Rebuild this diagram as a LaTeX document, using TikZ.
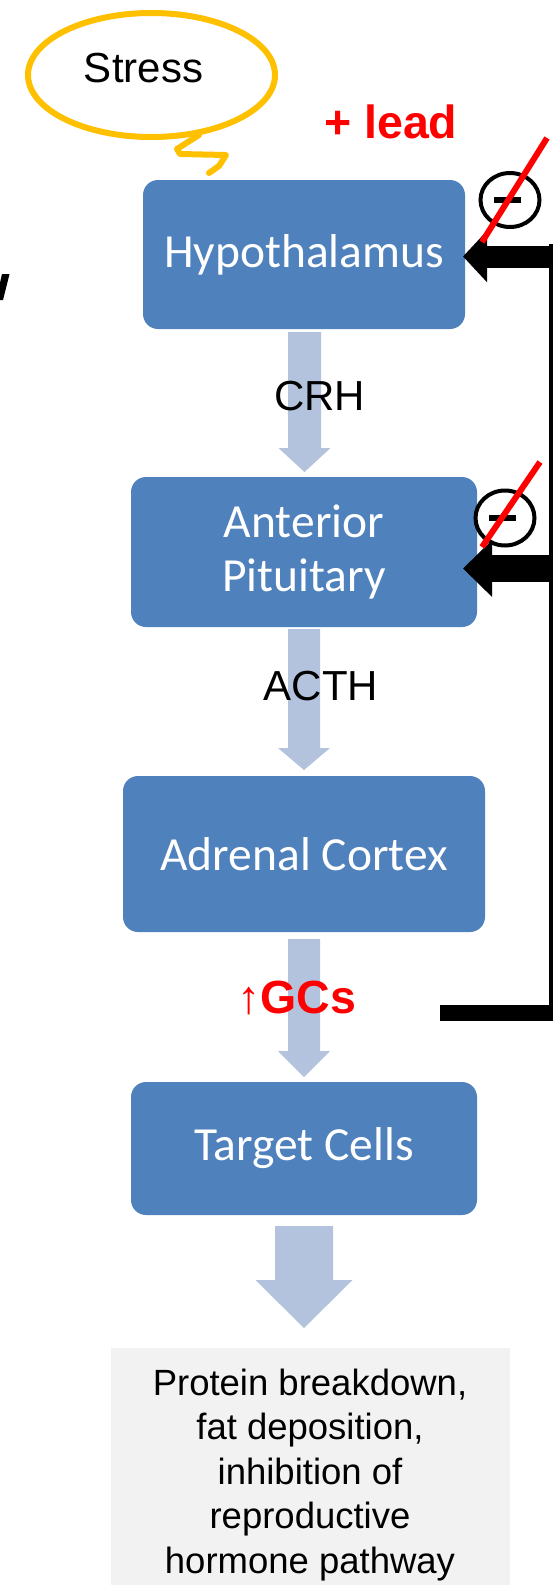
\documentclass[tikz,border=0pt]{standalone}
\usepackage{fontspec}
\setmainfont{Liberation Sans}
\newfontfamily\boxfont{Carlito}
\usetikzlibrary{arrows.meta,calc}
\definecolor{boxblue}{HTML}{4F81BD}
\definecolor{flowblue}{HTML}{B3C2DD}
\definecolor{gold}{HTML}{FFC000}
\definecolor{notered}{HTML}{FF0000}
\definecolor{panel}{HTML}{F2F2F2}
\newcommand\blockarrow[6]{%
  \fill[flowblue] (#1-#5,#2) -- (#1-#5,#3) -- (#1-#6,#3) -- (#1,#4) -- (#1+#6,#3) -- (#1+#5,#3) -- (#1+#5,#2) -- cycle;}
\tikzset{
  organ/.style={fill=boxblue, rounded corners=15pt, text=white, align=center, inner sep=0pt,
    font=\boxfont\fontsize{47.5}{54}\selectfont},
  lbl/.style={inner sep=0pt, font=\fontsize{42}{48}\selectfont},
  redlbl/.style={inner sep=0pt, text=notered, font=\bfseries\fontsize{46.5}{54}\selectfont},
  slash/.style={draw=notered, line width=6pt},
  fbline/.style={draw=black},
}
\begin{document}
\begin{tikzpicture}[x=1pt,y=-1pt]
\useasboundingbox (0,0) rectangle (553,1585);
\clip (0,0) rectangle (553,1585);
\fill[white] (0,0) rectangle (553,1585);

% clipped glyph stroke at the left edge
\fill[black] (2,274) -- (9.5,274) -- (3,300) -- (-4,300) -- cycle;

% stress bubble
\draw[gold, line width=6pt] (151.5,75) ellipse [x radius=123.5, y radius=62];
\draw[gold, line width=6pt, line join=round, line cap=round]
  (199,135) -- (177,149) -- (180,154) -- (226,155) -- (219,166) -- (209,173);
\node[lbl, anchor=base] (stress) at (143.5,82) {Stress};
\node[redlbl, anchor=base west] (lead) at (324,138) {+ lead};

% organ boxes
\node[organ, minimum width=322pt, minimum height=149pt] (hyp) at (304,254.5) {Hypothalamus};
\node[organ, minimum width=346pt, minimum height=150pt] (pit) at (304,552) {Anterior\\Pituitary};
\node[organ, minimum width=362pt, minimum height=156pt] (adr) at (304,854) {Adrenal Cortex};
\node[organ, minimum width=346pt, minimum height=133pt] (tgt) at (304,1148.5) {Target Cells};

% flow arrows
\blockarrow{304.5}{332}{448}{472}{16.5}{26}
\blockarrow{304}{629}{748}{770}{16}{26}
\blockarrow{304}{939}{1051}{1077}{16}{26}
\blockarrow{304}{1226}{1280}{1328}{29}{48.5}

% labels
\node[lbl, anchor=base] (crh) at (319.5,410) {CRH};
\node[lbl, anchor=base] (acth) at (321,700) {ACTH};
\node[anchor=base west, inner sep=0pt, text=notered, font=\fontsize{46.5}{54}\selectfont] (gcs) at (237,1013) {↑\textbf{GCs}};

% outcome panel
\fill[panel] (111,1348) rectangle (510,1590);
\node[inner sep=0pt, align=center, font=\fontsize{36.5}{44.5}\selectfont] (out) at (310,1475)
  {Protein breakdown,\\fat deposition,\\inhibition of\\reproductive\\hormone pathway};

% negative feedback
\coordinate (fbstart) at (440,1013);
\coordinate (fbcorner) at (553,1013);
\coordinate (fbtop) at (551,244);
\coordinate (hypin) at (553,256.5);
\coordinate (hyptip) at (463,256.5);
\coordinate (pitin) at (553,568.5);
\coordinate (pittip) at (463,568.5);
\draw[fbline, line width=16pt] (fbstart) -- (fbcorner);
\draw[fbline, line width=4pt] (551,1021) -- (fbtop);
\draw[fbline, line width=22pt, -{Triangle[length=24pt,width=50pt]}] (hypin) -- (hyptip);
\draw[fbline, line width=27pt, -{Triangle[length=29pt,width=55pt]}] (pitin) -- (pittip);

% inhibition marks
\draw[line width=4pt] (510,200) ellipse [x radius=29.5, y radius=27];
\draw[line width=6pt] (494,200) -- (521,200);
\draw[line width=4pt] (505,518) ellipse [x radius=29.5, y radius=27.5];
\draw[line width=6pt] (489,518) -- (516,518);
\draw[slash] (547,138) -- (482,242);
\draw[slash] (540,462) -- (482,547);
\end{tikzpicture}
\end{document}
